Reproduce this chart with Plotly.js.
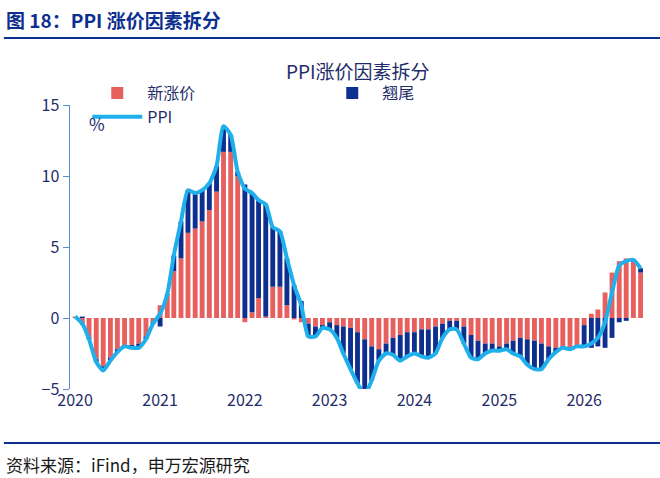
<!DOCTYPE html>
<html>
<head>
<meta charset="utf-8">
<script src="https://cdn.plot.ly/plotly-3.0.1.min.js"></script>
<style>body{margin:0;background:#fff}#chart{width:660px;height:478px}</style>
</head>
<body>
<div id="chart"></div>
<script>
// months Jan 2020 .. Sep 2026
const months = [];
for (let y = 2020; y <= 2026; y++) {
    for (let m = 1; m <= 12; m++) {
        if (y === 2026 && m > 9) break;
        months.push(y + '-' + String(m).padStart(2, '0') + '-01');
    }
}

const newPrice = [
    0.1, -0.5, -1.4, -2.9, -3.4, -2.8, -2.2, -1.9, -1.9, -1.8, -1.3, -0.3,
    0.9, 1.6, 3.3, 4.2, 6.0, 6.3, 6.8, 7.6, 8.9, 11.7, 11.7, 10.0,
    -0.3, 0.4, 1.4, 0.1, 2.2, 2.2, 0.9, -0.1, -0.3, -0.4, -0.6, -0.5,
    -0.3, -0.5, -0.6, -0.7, -1.0, -1.5, -2.0, -2.2, -1.8, -1.4, -1.2, -1.0,
    -1.0, -0.8, -0.8, -0.6, -0.4, -0.2, -0.2, -0.6, -1.2, -1.6, -1.8, -1.8,
    -2.0, -1.8, -1.6, -1.4, -1.5, -1.6, -1.8, -2.0, -2.1, -2.0, -2.1, -1.9,
    -0.5, 0.3, 0.6, 1.8, 3.2, 4.0, 4.2, 4.0, 3.2
];
const carryOver = [
    0, 0.1, -0.1, -0.2, -0.3, -0.2, -0.2, -0.1, -0.2, -0.3, -0.2, -0.1,
    -0.6, 0.1, 1.1, 2.6, 3.0, 2.5, 2.2, 1.9, 1.8, 1.8, 1.2, 0.3,
    9.4, 8.4, 6.9, 7.9, 4.2, 3.9, 3.3, 2.3, 1.2, -0.9, -0.7, -0.2,
    -0.5, -0.9, -1.9, -2.9, -3.6, -3.9, -2.4, -0.8, -0.7, -1.2, -1.8, -1.7,
    -1.5, -1.9, -2.0, -1.9, -1.0, -0.6, -0.6, -1.2, -1.6, -1.3, -0.7, -0.5,
    -0.3, -0.4, -0.9, -1.3, -1.8, -2.0, -1.8, -0.9, -0.3, -0.1, -0.1, -0.1,
    -1.5, -2.1, -2.0, -2.1, -1.4, -0.3, -0.2, 0.1, 0.3
];
const ppi = [
    0.1, -0.4, -1.5, -3.1, -3.7, -3.0, -2.4, -2.0, -2.1, -2.1, -1.5, -0.4,
    0.3, 1.7, 4.4, 6.8, 9.0, 8.8, 9.0, 9.5, 10.7, 13.5, 12.9, 10.3,
    9.1, 8.8, 8.3, 8.0, 6.4, 6.1, 4.2, 2.3, 0.9, -1.3, -1.3, -0.7,
    -0.8, -1.4, -2.5, -3.6, -4.6, -5.4, -4.4, -3.0, -2.5, -2.6, -3.0, -2.7,
    -2.5, -2.7, -2.8, -2.5, -1.4, -0.8, -0.8, -1.8, -2.8, -2.9, -2.5, -2.3,
    -2.3, -2.2, -2.5, -2.7, -3.3, -3.6, -3.6, -2.9, -2.4, -2.1, -2.2, -2.0,
    -2.0, -1.8, -1.4, -0.3, 1.8, 3.7, 4.0, 4.1, 3.5
];
const yTicks = [-5, 0, 5, 10, 15];

const navy = '#1f2d6b';
const axisBlue = '#5b8bd0';

const data = [
    { type: 'bar', name: '新涨价', x: months, y: newPrice, marker: { color: '#e8605e' } },
    { type: 'bar', name: '翘尾', x: months, y: carryOver, marker: { color: '#0d2f8f' } },
    { type: 'scatter', mode: 'lines', name: 'PPI', x: months, y: ppi,
      line: { color: '#1fb0ec', width: 4, shape: 'spline', smoothing: 0.6 } }
];

const layout = {
    width: 660, height: 478,
    margin: { l: 70, r: 15, t: 105, b: 89 },
    paper_bgcolor: '#fff', plot_bgcolor: '#fff',
    font: { family: '"Noto Sans CJK SC", "Noto Sans", sans-serif', color: navy, size: 16 },
    barmode: 'relative', bargap: 0.25,
    showlegend: true,
    legend: { orientation: 'h', x: 0.03, y: 1.0, xanchor: 'left', yanchor: 'middle',
              entrywidth: 170, entrywidthmode: 'pixels', itemwidth: 50,
              font: { size: 16, color: navy }, bgcolor: 'rgba(0,0,0,0)' },
    xaxis: {
        type: 'date', range: ['2019-12-10', '2026-09-20'],
        tickvals: ['2020-01-01', '2021-01-01', '2022-01-01', '2023-01-01', '2024-01-01', '2025-01-01', '2026-01-01'],
        ticktext: ['2020', '2021', '2022', '2023', '2024', '2025', '2026'],
        showgrid: false, zeroline: false, showline: false, ticks: '',
        tickfont: { size: 16, color: navy }
    },
    yaxis: {
        range: [-5, 15], tickvals: yTicks, showgrid: false, zeroline: false,
        showline: true, linecolor: axisBlue, linewidth: 1.5, ticks: 'outside',
        tickcolor: axisBlue, ticklen: 6, tickfont: { size: 16, color: navy }
    },
    annotations: [
        { text: '<b>图 18：PPI 涨价因素拆分</b>', xref: 'paper', yref: 'paper', x: -0.115, y: 1.30,
          xanchor: 'left', yanchor: 'middle', showarrow: false,
          font: { size: 19, color: '#0d2f8f' } },
        { text: 'PPI涨价因素拆分', xref: 'paper', yref: 'paper', x: 0.5, y: 1.123,
          xanchor: 'center', yanchor: 'middle', showarrow: false,
          font: { size: 19, color: navy } },
        { text: '%', xref: 'paper', yref: 'paper', x: 0.03, y: 0.935,
          xanchor: 'left', yanchor: 'middle', showarrow: false,
          font: { size: 17, color: navy } },
        { text: '资料来源：iFind，申万宏源研究', xref: 'paper', yref: 'paper', x: -0.115, y: -0.267,
          xanchor: 'left', yanchor: 'middle', showarrow: false,
          font: { size: 17, color: '#1a1a1a' } }
    ],
    shapes: [
        { type: 'line', xref: 'paper', yref: 'paper', x0: -0.115, x1: 1.03, y0: 1.236, y1: 1.236,
          line: { color: '#0d2f8f', width: 2 } },
        { type: 'line', xref: 'paper', yref: 'paper', x0: -0.115, x1: 1.03, y0: -0.19, y1: -0.19,
          line: { color: '#0d2f8f', width: 2 } }
    ]
};

Plotly.newPlot('chart', data, layout, { displayModeBar: false, staticPlot: true });
</script>
</body>
</html>
